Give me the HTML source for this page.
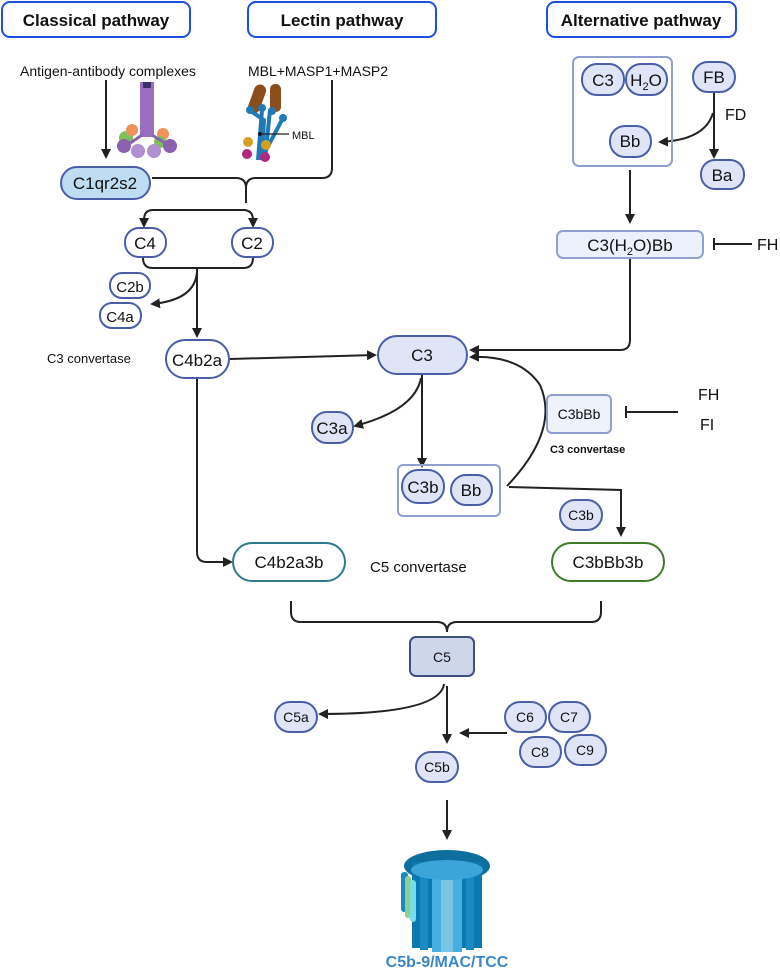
<!DOCTYPE html>
<html><head><meta charset="utf-8"><style>
body{margin:0;background:#fff}
svg{display:block}
text{font-family:"Liberation Sans",sans-serif;fill:#111}
</style></head><body>
<svg width="780" height="970" viewBox="0 0 780 970" xmlns="http://www.w3.org/2000/svg">
<defs>
<marker id="a" markerWidth="10" markerHeight="10" refX="8" refY="5" orient="auto" markerUnits="userSpaceOnUse"><path d="M0,0 L10,5 L0,10 z" fill="#222"/></marker>
</defs>
<g fill="#fff" stroke="#1f4fe0" stroke-width="2">
<rect x="2" y="2" width="188" height="35" rx="8"/>
<rect x="248" y="2" width="188" height="35" rx="8"/>
<rect x="547" y="2" width="189" height="35" rx="8"/>
</g>
<g font-weight="bold" font-size="17" text-anchor="middle">
<text x="96" y="26">Classical pathway</text>
<text x="342" y="26">Lectin pathway</text>
<text x="641" y="26">Alternative pathway</text>
</g>
<text x="108" y="76" font-size="14" text-anchor="middle">Antigen-antibody complexes</text>
<text x="318" y="76" font-size="14" text-anchor="middle">MBL+MASP1+MASP2</text>

<!-- antibody icon -->
<g>
<rect x="140" y="82" width="14" height="55" fill="#9b6fc0"/>
<rect x="143" y="82" width="8" height="6" fill="#3c2f6a"/>
<circle cx="126" cy="138" r="7" fill="#7fbf5a"/><circle cx="163" cy="134" r="6" fill="#f0905a"/>
<circle cx="132" cy="130" r="6" fill="#f0905a"/><circle cx="160" cy="142" r="6" fill="#7fbf5a"/>
<circle cx="124" cy="146" r="7" fill="#8a62b0"/><circle cx="170" cy="146" r="7" fill="#8a62b0"/>
<circle cx="138" cy="151" r="7" fill="#b190d0"/><circle cx="154" cy="151" r="7" fill="#b190d0"/>
<path d="M142,135 L126,146 M152,135 L170,146" stroke="#8a62b0" stroke-width="3"/>
</g>
<!-- MBL icon -->
<g>
<rect x="251" y="84" width="12" height="30" rx="6" fill="#8b4d1a" transform="rotate(20 257 99)"/>
<rect x="270" y="84" width="11" height="28" rx="5" fill="#8b4d1a"/>
<path d="M258,160 L262,110 M262,160 L264,120 L252,112 M265,160 L270,110 M266,150 L283,118" stroke="#1e7bb5" stroke-width="4" fill="none"/>
<circle cx="250" cy="110" r="4" fill="#1e7bb5"/><circle cx="262" cy="108" r="4" fill="#1e7bb5"/>
<circle cx="272" cy="111" r="4" fill="#1e7bb5"/><circle cx="283" cy="118" r="4" fill="#1e7bb5"/>
<circle cx="248" cy="142" r="5" fill="#d4a024"/><circle cx="266" cy="145" r="5" fill="#d4a024"/>
<circle cx="247" cy="154" r="5" fill="#b02680"/><circle cx="265" cy="157" r="5" fill="#b02680"/>
<circle cx="260" cy="134" r="2" fill="#111"/>
<line x1="260" y1="134" x2="289" y2="134" stroke="#222" stroke-width="1.2"/>
<text x="292" y="139" font-size="11">MBL</text>
</g>

<g stroke="#222" stroke-width="2" fill="none">
<line x1="106" y1="80" x2="106" y2="157" marker-end="url(#a)"/>
<path d="M152,178 L236,178 Q246,178 246,188 L246,203"/>
<path d="M332,80 L332,168 Q332,178 322,178 L256,178 Q246,178 246,188"/>
<path d="M246,210 L153,210 Q144,210 144,220 L144,226" marker-end="url(#a)"/>
<path d="M246,210 L243,210 Q253,210 253,220 L253,226" marker-end="url(#a)"/>
<path d="M143,258 Q143,268 153,268 L243,268 Q253,268 253,258"/>
<line x1="197" y1="268" x2="197" y2="336" marker-end="url(#a)"/>
<path d="M197,272 Q195,300 152,304" marker-end="url(#a)"/>
<line x1="230" y1="359" x2="375" y2="355" marker-end="url(#a)"/>
<path d="M197,378 L197,552 Q197,562 207,562 L231,562" marker-end="url(#a)"/>
<line x1="630" y1="170" x2="630" y2="222" marker-end="url(#a)"/>
<line x1="714" y1="93" x2="714" y2="157" marker-end="url(#a)"/>
<path d="M713,113 Q705,140 660,142" marker-end="url(#a)"/>
<line x1="715" y1="244" x2="752" y2="244"/><line x1="714" y1="238" x2="714" y2="250"/>
<path d="M630,258 L630,340 Q630,350 620,350 L471,350" marker-end="url(#a)"/>
<line x1="422" y1="374" x2="422" y2="466" marker-end="url(#a)"/>
<path d="M421,378 Q415,410 355,426" marker-end="url(#a)"/>
<path d="M507,486 Q560,430 540,385 Q520,355 471,357" marker-end="url(#a)"/>
<path d="M509,487 L621,490 L621,535" marker-end="url(#a)"/>
<line x1="626" y1="412" x2="678" y2="412"/><line x1="626" y1="406" x2="626" y2="418"/>
<path d="M291,601 L291,612 Q291,622 301,622 L437,622 Q447,622 447,632"/>
<path d="M601,601 L601,612 Q601,622 591,622 L457,622 Q447,622 447,632"/>
<line x1="447" y1="686" x2="447" y2="742" marker-end="url(#a)"/>
<path d="M444,684 Q440,714 320,714" marker-end="url(#a)"/>
<line x1="507" y1="733" x2="461" y2="733" marker-end="url(#a)"/>
<line x1="447" y1="800" x2="447" y2="838" marker-end="url(#a)"/>
</g>

<g stroke="#4a5ea8" stroke-width="2">
<rect x="61" y="167" width="89" height="32" rx="16" fill="#bedcf2"/>
<rect x="125" y="228" width="41" height="29" rx="14" fill="#fff"/>
<rect x="232" y="228" width="41" height="29" rx="14" fill="#fff"/>
<rect x="110" y="273" width="40" height="25" rx="12" fill="#fff"/>
<rect x="100" y="303" width="41" height="25" rx="12" fill="#fff"/>
<rect x="166" y="340" width="63" height="38" rx="19" fill="#fff"/>
<rect x="378" y="336" width="89" height="38" rx="19" fill="#dfe5f7"/>
<rect x="582" y="64" width="42" height="31" rx="15" fill="#dfe5f7"/>
<rect x="626" y="64" width="41" height="31" rx="15" fill="#dfe5f7"/>
<rect x="693" y="62" width="42" height="30" rx="15" fill="#dfe5f7"/>
<rect x="701" y="160" width="43" height="29" rx="14" fill="#dfe5f7"/>
<rect x="610" y="126" width="41" height="31" rx="15" fill="#dfe5f7"/>
<rect x="312" y="412" width="41" height="31" rx="15" fill="#dfe5f7"/>
<rect x="402" y="470" width="42" height="33" rx="16" fill="#dfe5f7"/>
<rect x="451" y="475" width="41" height="30" rx="15" fill="#dfe5f7"/>
<rect x="560" y="500" width="42" height="30" rx="15" fill="#dfe5f7"/>
<rect x="275" y="702" width="42" height="30" rx="15" fill="#dfe5f7"/>
<rect x="416" y="752" width="42" height="30" rx="15" fill="#dfe5f7"/>
<rect x="505" y="702" width="41" height="30" rx="15" fill="#dfe5f7"/>
<rect x="549" y="702" width="41" height="30" rx="15" fill="#dfe5f7"/>
<rect x="520" y="737" width="41" height="30" rx="15" fill="#dfe5f7"/>
<rect x="565" y="735" width="41" height="30" rx="15" fill="#dfe5f7"/>
</g>
<g stroke="#8fa0d0" stroke-width="2" fill="none">
<rect x="573" y="57" width="99" height="109" rx="6"/>
<rect x="398" y="465" width="102" height="51" rx="5"/>
<rect x="557" y="231" width="146" height="27" rx="6" fill="#ebf0fb"/>
<rect x="547" y="395" width="64" height="38" rx="5" fill="#eef2fb"/>
</g>
<rect x="233" y="543" width="112" height="38" rx="19" fill="#fff" stroke="#2e7a8c" stroke-width="2"/>
<rect x="552" y="543" width="112" height="38" rx="19" fill="#fff" stroke="#3f7a2a" stroke-width="2"/>
<rect x="410" y="637" width="64" height="39" rx="6" fill="#ced6ea" stroke="#3f4f80" stroke-width="2"/>

<g text-anchor="middle" font-size="17">
<text x="105" y="189">C1qr2s2</text>
<text x="145" y="249">C4</text>
<text x="252" y="249">C2</text>
<text x="130" y="292" font-size="15">C2b</text>
<text x="120" y="322" font-size="15">C4a</text>
<text x="197" y="366">C4b2a</text>
<text x="422" y="361">C3</text>
<text x="603" y="86">C3</text>
<text x="646" y="86">H<tspan font-size="11" dy="4">2</tspan><tspan dy="-4">O</tspan></text>
<text x="714" y="83">FB</text>
<text x="722" y="181">Ba</text>
<text x="630" y="147">Bb</text>
<text x="630" y="251">C3(H<tspan font-size="11" dy="4">2</tspan><tspan dy="-4">O)Bb</tspan></text>
<text x="332" y="434">C3a</text>
<text x="423" y="493">C3b</text>
<text x="471" y="496">Bb</text>
<text x="289" y="568">C4b2a3b</text>
<text x="608" y="568">C3bBb3b</text>
<text x="581" y="520" font-size="14">C3b</text>
<text x="579" y="419" font-size="14">C3bBb</text>
<text x="442" y="662" font-size="14">C5</text>
<text x="296" y="722" font-size="14">C5a</text>
<text x="437" y="772" font-size="14">C5b</text>
<text x="525" y="722" font-size="14">C6</text>
<text x="569" y="722" font-size="14">C7</text>
<text x="540" y="757" font-size="14">C8</text>
<text x="585" y="755" font-size="14">C9</text>
</g>
<text x="725" y="120" font-size="16">FD</text>
<text x="757" y="250" font-size="16">FH</text>
<text x="698" y="400" font-size="16">FH</text>
<text x="700" y="430" font-size="16">FI</text>
<text x="47" y="363" font-size="13">C3 convertase</text>
<text x="550" y="453" font-size="11" font-weight="bold" fill="#333">C3 convertase</text>
<text x="370" y="572" font-size="15" fill="#333">C5 convertase</text>

<!-- MAC pore -->
<g>
<ellipse cx="447" cy="866" rx="43" ry="16" fill="#0e6e9e"/>
<rect x="412" y="862" width="70" height="86" fill="#0b78b0"/>
<rect x="420" y="866" width="8" height="84" fill="#1a8bc2"/>
<rect x="432" y="866" width="9" height="86" fill="#46aee0"/>
<rect x="441" y="866" width="12" height="86" fill="#7cc4e6"/>
<rect x="453" y="866" width="9" height="86" fill="#46aee0"/>
<rect x="466" y="866" width="8" height="84" fill="#1a8bc2"/>
<ellipse cx="447" cy="870" rx="36" ry="10" fill="#3ba4d8"/>
<rect x="401" y="872" width="7" height="40" rx="3" fill="#1a8bc2"/>
<rect x="405" y="876" width="6" height="42" rx="3" fill="#8ccf90"/>
<rect x="410" y="880" width="6" height="42" rx="3" fill="#78dbe6"/>
</g>
<text x="447" y="967" font-size="16" font-weight="bold" text-anchor="middle" fill="#3a86c8" style="fill:#3a86c8">C5b-9/MAC/TCC</text>
</svg>
</body></html>
